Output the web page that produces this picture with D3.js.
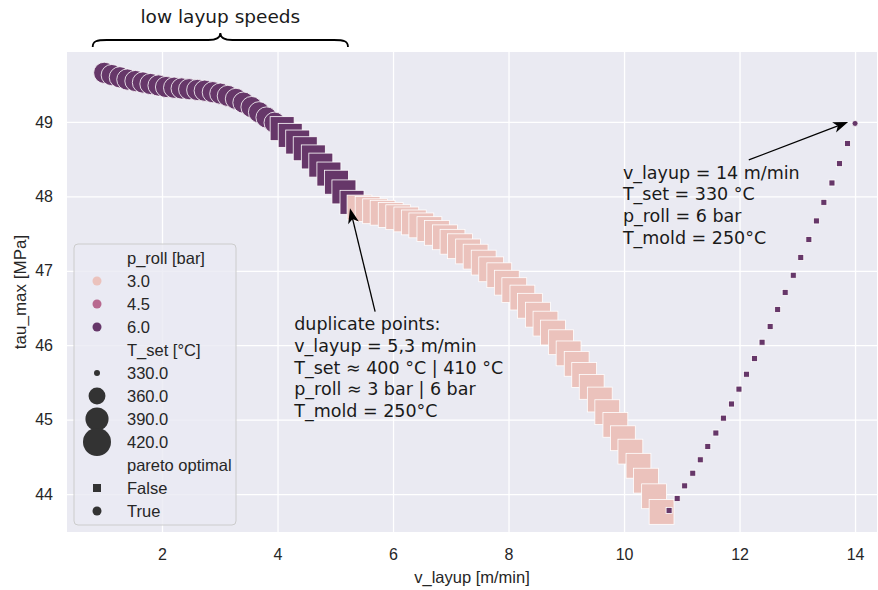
<!DOCTYPE html>
<html>
<head>
<meta charset="utf-8">
<script src="https://cdn.jsdelivr.net/npm/d3@7"></script>
<style>
  body { margin: 0; background: #fff; }
  svg { display: block; }
</style>
</head>
<body>
<div id="chart"></div>
<script>
// v_layup [m/min] of every point, in plotting order
const v_layup = [
  1.00, 1.13, 1.27, 1.40, 1.54, 1.67, 1.80, 1.94, 2.07, 2.21, 2.34, 2.47, 2.61, 2.74, 2.88, 3.01,
  3.14, 3.28, 3.41, 3.55, 3.68, 3.81, 3.95,
  4.08, 4.22, 4.35, 4.48, 4.62, 4.75, 4.89, 5.02, 5.15, 5.29,
  5.42, 5.56, 5.69, 5.82, 5.96, 6.09, 6.23, 6.36, 6.49, 6.63, 6.76, 6.90, 7.03, 7.16, 7.30, 7.43,
  7.57, 7.70, 7.84, 7.97, 8.10, 8.24, 8.37, 8.51, 8.64, 8.77, 8.91, 9.04, 9.18, 9.31, 9.44, 9.58,
  9.71, 9.85, 9.98, 10.11, 10.25, 10.38, 10.52, 10.65,
  10.78, 10.92, 11.05, 11.19, 11.32, 11.45, 11.59, 11.72, 11.86, 11.99, 12.12, 12.26, 12.39, 12.53,
  12.66, 12.79, 12.93, 13.06, 13.20, 13.33, 13.46, 13.60, 13.73, 13.87, 14.00
]
// tau_max [MPa]
const tau_max = [
  49.66, 49.63, 49.60, 49.57, 49.55, 49.53, 49.51, 49.49, 49.47, 49.46, 49.45, 49.44, 49.43, 49.42, 49.40, 49.38,
  49.35, 49.31, 49.26, 49.20, 49.13, 49.06, 48.99,
  48.91, 48.82, 48.73, 48.64, 48.53, 48.42, 48.30, 48.19, 48.06, 47.92,
  47.85, 47.83, 47.80, 47.78, 47.75, 47.72, 47.69, 47.65, 47.61, 47.56, 47.51, 47.45, 47.39, 47.33,
  47.26, 47.19, 47.11, 47.02, 46.94, 46.84, 46.74, 46.64, 46.53, 46.41, 46.29, 46.17, 46.04, 45.89,
  45.75, 45.60, 45.44, 45.27, 45.10, 44.93, 44.75, 44.57, 44.38, 44.18, 43.97, 43.76,
  43.78, 43.94, 44.11, 44.28, 44.46, 44.64, 44.82, 45.02, 45.21, 45.41, 45.61, 45.82, 46.04, 46.25,
  46.48, 46.71, 46.94, 47.18, 47.42, 47.67, 47.92, 48.18, 48.44, 48.71, 48.98
]
// p_roll [bar]
const p_roll = [
  6, 6, 6, 6, 6, 6, 6, 6, 6, 6, 6, 6, 6, 6, 6, 6, 6, 6, 6, 6, 6, 6, 6,
  6, 6, 6, 6, 6, 6, 6, 6, 6, 6,
  3, 3, 3, 3, 3, 3, 3, 3, 3, 3, 3, 3, 3, 3, 3, 3, 3, 3, 3, 3,
  3, 3, 3, 3, 3, 3, 3, 3, 3, 3, 3, 3, 3, 3, 3, 3, 3, 3, 3, 3,
  6, 6, 6, 6, 6, 6, 6, 6, 6, 6, 6, 6, 6, 6, 6, 6, 6, 6, 6, 6, 6, 6, 6, 6, 6
]
// T_set [°C]
const T_set = [
  380, 380, 380, 380, 380, 380, 380, 380, 380, 380, 380, 380, 380, 380, 380, 380, 380, 380, 380, 380, 380, 380, 380,
  395, 395, 395, 395, 395, 395, 395, 395, 395, 395,
  400, 400, 400, 400, 400, 400, 400, 400, 400, 400, 400, 400, 400, 400, 400, 400, 400, 400, 400, 400,
  400, 400, 400, 400, 400, 400, 400, 400, 400, 400, 400, 400, 400, 400, 400, 400, 400, 400, 400, 400,
  330, 330, 330, 330, 330, 330, 330, 330, 330, 330, 330, 330, 330, 330, 330, 330, 330, 330, 330, 330, 330, 330, 330, 330, 330
]
// pareto optimal
const pareto = [
  true, true, true, true, true, true, true, true, true, true, true, true, true, true, true, true,
  true, true, true, true, true, true, true,
  false, false, false, false, false, false, false, false, false, false,
  false, false, false, false, false, false, false, false, false, false, false, false, false, false, false, false,
  false, false, false, false, false, false, false, false, false, false, false, false, false, false, false, false,
  false, false, false, false, false, false, false, false,
  false, false, false, false, false, false, false, false, false, false, false, false, false, false, false, false,
  false, false, false, false, false, false, false, false, true
]

const xTicks = [2, 4, 6, 8, 10, 12, 14]
const yTicks = [44, 45, 46, 47, 48, 49]
const legendHue = [3.0, 4.5, 6.0]
const legendSize = [330, 360, 390, 420]
const legendStyle = [false, true]

const note1 = ['duplicate points:', 'v_layup = 5,3 m/min', 'T_set \u2248 400 \u00b0C | 410 \u00b0C',
  'p_roll \u2248 3 bar | 6 bar', 'T_mold = 250\u00b0C']
const note2 = ['v_layup = 14 m/min', 'T_set = 330 \u00b0C', 'p_roll = 6 bar', 'T_mold = 250\u00b0C']

const W = 878, H = 590
const margin = { top: 52, right: 1, bottom: 58, left: 67 }
const innerW = W - margin.left - margin.right
const innerH = H - margin.top - margin.bottom
const sans = '"Liberation Sans", Arial, sans-serif'
const deja = '"DejaVu Sans", sans-serif'
const ink = '#262626'

var svg = d3.select('#chart').append('svg').
  attr('width', W).
  attr('height', H).
  style('background', '#fff')

var x = d3.scaleLinear().domain([0.355, 14.38]).range([margin.left, margin.left + innerW])
var y = d3.scaleLinear().domain([43.49, 49.94]).range([margin.top + innerH, margin.top])
var color = d3.scaleLinear().domain([3, 4.5, 6]).range(['#ebc2bc', '#b8698f', '#663769'])
// marker area grows linearly with T_set
var area = d3.scaleLinear().domain([330, 420]).range([36, 784])
const diam = t => Math.sqrt(area(t))

// axes background
svg.append('rect').
  attr('x', margin.left).attr('y', margin.top).
  attr('width', innerW).attr('height', innerH).
  attr('fill', '#eaeaf2')

var xAxis = svg.append('g').
  attr('transform', `translate(0,${margin.top + innerH})`).
  call(d3.axisBottom(x).tickValues(xTicks).tickSize(-innerH).tickPadding(17).tickFormat(d3.format('d')))
var yAxis = svg.append('g').
  attr('transform', `translate(${margin.left},0)`).
  call(d3.axisLeft(y).tickValues(yTicks).tickSize(-innerW).tickPadding(14).tickFormat(d3.format('d')))

;[xAxis, yAxis].forEach(g => {
  g.select('.domain').remove()
  g.selectAll('line').attr('stroke', '#fff').attr('stroke-width', 1.3)
  g.selectAll('text').attr('fill', ink).style('font-family', sans).style('font-size', '16px')
})

svg.append('text').
  attr('x', margin.left + innerW / 2).attr('y', 583).
  attr('text-anchor', 'middle').attr('fill', ink).
  style('font-family', sans).style('font-size', '16.5px').
  text('v_layup [m/min]')
svg.append('text').
  attr('transform', `translate(26,${margin.top + innerH / 2}) rotate(-90)`).
  attr('text-anchor', 'middle').attr('fill', ink).
  style('font-family', sans).style('font-size', '17px').
  text('tau_max [MPa]')

// points
var pts = v_layup.map((v, i) => ({ v: v, tau: tau_max[i], p: p_roll[i], t: T_set[i], po: pareto[i] }))

var marks = svg.append('g').selectAll('.pt').
  data(pts).
  enter().
  append('g').
  attr('class', 'pt').
  attr('transform', d => `translate(${x(d.v)},${y(d.tau)})`)

marks.each(function (d) {
  var s = diam(d.t)
  var g = d3.select(this)
  if (d.po) {
    g.append('circle').attr('r', s / 2)
  } else {
    g.append('rect').attr('x', -s / 2).attr('y', -s / 2).attr('width', s).attr('height', s)
  }
  g.selectChildren().
    attr('fill', color(d.p)).
    attr('stroke', '#fff').
    attr('stroke-width', 0.8)
})

// arrows
function arrow (x1, y1, x2, y2) {
  var ang = Math.atan2(y2 - y1, x2 - x1)
  var len = 15, half = 5.5, notch = 4
  var bx = x2 - len * Math.cos(ang), by = y2 - len * Math.sin(ang)
  var nx = x2 - (len - notch) * Math.cos(ang), ny = y2 - (len - notch) * Math.sin(ang)
  svg.append('line').
    attr('x1', x1).attr('y1', y1).attr('x2', nx).attr('y2', ny).
    attr('stroke', '#000').attr('stroke-width', 1.3)
  var px = -Math.sin(ang) * half, py = Math.cos(ang) * half
  svg.append('path').
    attr('d', `M${x2},${y2}L${bx + px},${by + py}L${nx},${ny}L${bx - px},${by - py}Z`).
    attr('fill', '#000')
}

arrow(x(5.69), y(46.45), x(5.255), y(47.84))
arrow(x(12.16), y(48.49), x(13.88), y(49.0))

function note (lines, vx, ty) {
  svg.append('g').selectAll('text').
    data(lines).
    enter().
    append('text').
    attr('x', x(vx)).
    attr('y', (d, i) => y(ty) + i * 21.7).
    attr('fill', '#1a1a1a').
    style('font-family', deja).
    style('font-size', '17.5px').
    text(d => d)
}
note(note1, 4.29, 46.2)
note(note2, 9.98, 48.24)

// brace over low layup speeds
var xa = x(0.8), xb = x(5.22), xm = (xa + xb) / 2
svg.append('path').
  attr('d', `M${xa},47 C${xa},41 ${xa + 4},40 ${xa + 14},40 L${xm - 12},40 C${xm - 4},40 ${xm},37 ${xm},33 ` +
    `C${xm},37 ${xm + 4},40 ${xm + 12},40 L${xb - 14},40 C${xb - 4},40 ${xb},41 ${xb},47`).
  attr('fill', 'none').attr('stroke', '#000').attr('stroke-width', 1.8)
svg.append('text').
  attr('x', xm).attr('y', 23).
  attr('text-anchor', 'middle').attr('fill', '#1a1a1a').
  style('font-family', deja).style('font-size', '18.5px').
  text('low layup speeds')

// legend
var leg = svg.append('g')
leg.append('rect').
  attr('x', 74).attr('y', 244).attr('width', 162).attr('height', 281).attr('rx', 4).
  attr('fill', '#eaeaf2').attr('fill-opacity', 0.8).
  attr('stroke', '#cccccc').attr('stroke-width', 1)

var rows = []
rows.push({ label: 'p_roll [bar]' })
legendHue.forEach(h => rows.push({ label: h.toFixed(1), kind: 'hue', val: h }))
rows.push({ label: 'T_set [\u00b0C]' })
legendSize.forEach(s => rows.push({ label: s.toFixed(1), kind: 'size', val: s }))
rows.push({ label: 'pareto optimal' })
legendStyle.forEach(s => rows.push({ label: s ? 'True' : 'False', kind: 'style', val: s }))

var row = leg.selectAll('.row').
  data(rows).
  enter().
  append('g').
  attr('class', 'row').
  attr('transform', (d, i) => `translate(0,${258 + i * 23})`)

row.append('text').
  attr('x', 127).attr('dy', '0.35em').
  attr('fill', ink).
  style('font-family', sans).style('font-size', '16.5px').
  text(d => d.label)

row.each(function (d) {
  var g = d3.select(this)
  if (d.kind === 'hue') {
    g.append('circle').attr('cx', 97).attr('r', 4.5).attr('fill', color(d.val))
  } else if (d.kind === 'size') {
    g.append('circle').attr('cx', 97).attr('r', diam(d.val) / 2).attr('fill', '#333')
  } else if (d.kind === 'style') {
    if (d.val) g.append('circle').attr('cx', 97).attr('r', 4.5).attr('fill', '#333')
    else g.append('rect').attr('x', 93).attr('y', -4).attr('width', 8).attr('height', 8).attr('fill', '#333')
  }
})
</script>
</body>
</html>
